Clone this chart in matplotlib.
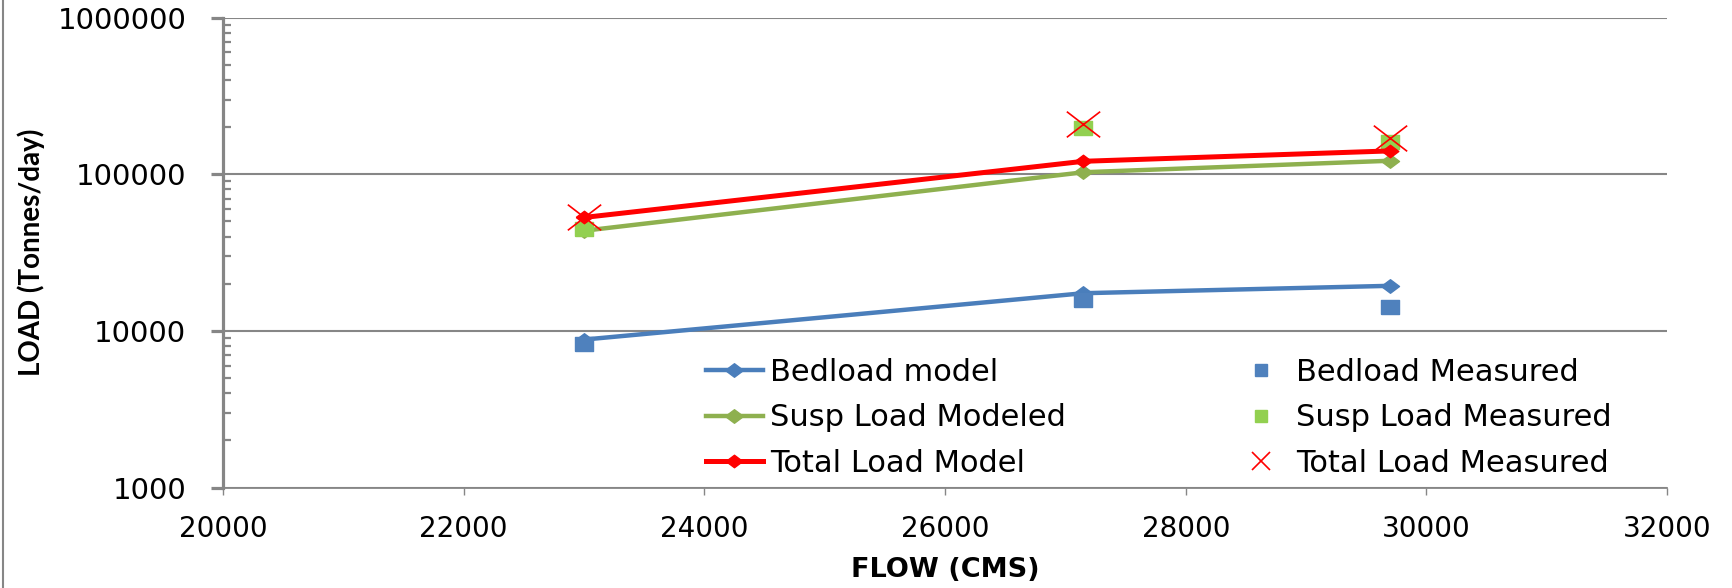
import matplotlib
matplotlib.use("Agg")
import matplotlib.pyplot as plt
from matplotlib.lines import Line2D
from matplotlib.path import Path
from matplotlib.ticker import LogLocator, FixedLocator, FuncFormatter, NullFormatter

flow = [23000, 27150, 29700]
bedload_model = [8800, 17400, 19400]
bedload_measured = [8300, 15800, 14200]
susp_model = [43600, 103000, 122000]
susp_measured = [44700, 198000, 160000]
total_model = [53000, 121000, 141000]
total_measured = [53000, 208000, 171000]

x_ticks = [20000, 22000, 24000, 26000, 28000, 30000, 32000]

BLUE_LINE = "#4A7EBB"
BLUE = "#4F81BD"
GREEN_LINE = "#8EB04F"
GREEN = "#92D050"
RED = "#FF0000"
GREY = "#868686"

# slightly wide markers, the chart was stretched sideways
diamond = [(-1, 0), (0, 0.75), (1, 0), (0, -0.75), (-1, 0)]
rect = [(-1, -0.75), (1, -0.75), (1, 0.75), (-1, 0.75), (-1, -0.75)]
cross = Path([(-1, -0.77), (1, 0.77), (-1, 0.77), (1, -0.77)],
             [Path.MOVETO, Path.LINETO, Path.MOVETO, Path.LINETO])

plt.rcParams["font.family"] = ["DejaVu Sans"]

fig = plt.figure(figsize=(17.33, 5.88), dpi=100)
ax = fig.add_axes([0.1287, 0.1709, 0.962 - 0.1287, 0.970 - 0.1709])

h1, = ax.plot(flow, bedload_model, color=BLUE_LINE, lw=3.2, marker=diamond, ms=13,
              mfc=BLUE_LINE, mec=BLUE_LINE, label="Bedload model")
h2, = ax.plot(flow, bedload_measured, ls="none", marker=rect, ms=13.5,
              mfc=BLUE, mec=BLUE, label="Bedload Measured")
h3, = ax.plot(flow, susp_model, color=GREEN_LINE, lw=3.2, marker=diamond, ms=13,
              mfc=GREEN_LINE, mec=GREEN_LINE, label="Susp Load Modeled")
h4, = ax.plot(flow, susp_measured, ls="none", marker=rect, ms=13.5,
              mfc=GREEN, mec=GREEN, label="Susp Load Measured")
h5, = ax.plot(flow, total_model, color=RED, lw=3.6, marker=diamond, ms=12,
              mfc=RED, mec=RED, label="Total Load Model")
h6, = ax.plot(flow, total_measured, ls="none", marker=cross, ms=24, mew=1.2,
              mec=RED, label="Total Load Measured")

ax.set_yscale("log")
ax.set_ylim(1000, 1000000)
ax.set_xlim(20000, 32000)
ax.xaxis.set_major_locator(FixedLocator(x_ticks))
ax.yaxis.set_major_locator(LogLocator(base=10))
ax.yaxis.set_minor_locator(LogLocator(base=10, subs=range(2, 10)))
ax.yaxis.set_major_formatter(FuncFormatter(lambda v, p: f"{v:.0f}"))
ax.yaxis.set_minor_formatter(NullFormatter())

ax.grid(axis="y", which="major", color=GREY, lw=1.5)
ax.set_axisbelow(True)
for side in ("top", "right"):
    ax.spines[side].set_visible(False)
ax.spines["left"].set_color(GREY)
ax.spines["left"].set_linewidth(2.3)
ax.spines["bottom"].set_color(GREY)
ax.spines["bottom"].set_linewidth(1.3)

ax.tick_params(axis="y", which="major", direction="out", length=8.5, width=2.3,
               color=GREY, labelsize=21, pad=18)
ax.tick_params(axis="y", which="minor", direction="in", length=6, width=1.6,
               color=GREY)
ax.tick_params(axis="x", which="major", direction="out", length=5, width=1,
               color=GREY, labelsize=20, pad=15)

ax.set_xlabel("FLOW (CMS)", fontsize=19.5, fontweight="bold", va="center")
ax.xaxis.set_label_coords(0.5, -0.1755)
ax.set_ylabel("LOAD (Tonnes/day)", fontsize=20, fontweight="bold",
              family=["Lato", "DejaVu Sans"], va="center", ha="center")
ax.yaxis.set_label_coords(-0.133, 0.5)

# two legends side by side: modelled lines left, measured points right
leg_kw = dict(frameon=False, fontsize=22, handlelength=1.86, handletextpad=0.23,
              labelspacing=0.535, borderpad=0, borderaxespad=0, loc="upper left")
leg1 = fig.legend([h1, h3, h5], [h1.get_label(), h3.get_label(), h5.get_label()],
                  bbox_to_anchor=(0.4074, 0.391), **leg_kw)
leg2 = fig.legend([h2, h4, h6], [h2.get_label(), h4.get_label(), h6.get_label()],
                  bbox_to_anchor=(0.7112, 0.391), **leg_kw)
for h in leg2.legend_handles[:2]:
    h.set_marker("s")
    h.set_markersize(8.5)
leg2.legend_handles[2].set_marker("x")
leg2.legend_handles[2].set_markersize(12.5)

fig.add_artist(Line2D([0.0015, 0.0015], [0, 1], color=GREY, lw=1.5))

fig.savefig("out.png", dpi=100)
